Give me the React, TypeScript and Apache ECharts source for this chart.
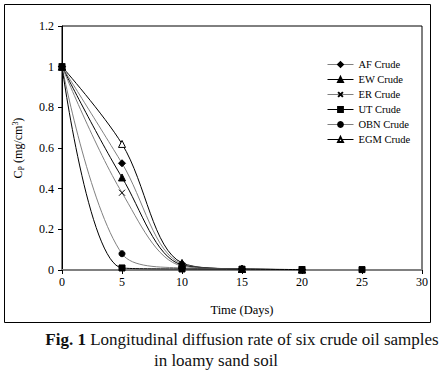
import React, { useEffect, useRef } from "react";
import * as echarts from "echarts";

const days = [0, 5, 10, 15, 20];
const afCrude = [1, 0.525, 0.03, 0.005, 0.002];
const ewCrude = [1, 0.455, 0.025, 0.005, 0.002];
const erCrude = [1, 0.38, 0.02, 0.004, 0.002];
const utCrude = [1, 0.01, 0.005, 0.004, 0.002];
const utLast = [25, 0.002];
const obnCrude = [1, 0.08, 0.01, 0.005, 0.002];
const egmCrude = [1, 0.62, 0.035, 0.005, 0.002];

const yTicks = [0, 0.2, 0.4, 0.6, 0.8, 1, 1.2];
const xTicks = [0, 5, 10, 15, 20, 25, 30];

const SERIF = "'Liberation Serif', 'Times New Roman', serif";
const GRAY = "#808080";
const BLACK = "#000000";

const xPath = "path://M0,0L10,10M10,0L0,10";

function pairs(vals: number[]) {
  return days.map((d, i) => [d, vals[i]]);
}

export default function App() {
  const ref = useRef<HTMLDivElement>(null);
  useEffect(() => {
    document.body.style.margin = "0";
    const chart = echarts.init(ref.current!, null, { renderer: "svg" });
    const mk = (
      name: string,
      data: any[],
      color: string,
      symbol: string,
      size: number,
      fill: string,
      extra: any = {}
    ) => ({
      name,
      type: "line",
      data,
      smooth: 0.35,
      symbol,
      symbolSize: size,
      showSymbol: true,
      connectNulls: false,
      lineStyle: { color, width: 1 },
      itemStyle: { color: fill, borderColor: BLACK, borderWidth: 1, ...extra },
      emphasis: { disabled: true },
      z: 3,
    });
    const utData: any[] = pairs(utCrude);
    utData.push([22, null]);
    utData.push(utLast);
    chart.setOption({
      animation: false,
      backgroundColor: "#fff",
      grid: {
        left: 62,
        right: 21,
        top: 26,
        bottom: 104,
        show: true,
        borderColor: BLACK,
        borderWidth: 1,
        backgroundColor: "transparent",
      },
      legend: {
        orient: "vertical",
        left: 322,
        top: 54,
        itemWidth: 26,
        itemHeight: 6,
        itemGap: 4,
        lineStyle: { width: 1 },
        textStyle: { fontFamily: SERIF, fontSize: 10.5, color: BLACK },
        selectedMode: false,
        data: ["AF Crude", "EW Crude", "ER Crude", "UT Crude", "OBN Crude", "EGM Crude"],
      },
      xAxis: {
        type: "value",
        min: 0,
        max: 30,
        interval: 5,
        name: "Time (Days)",
        nameLocation: "middle",
        nameGap: 33,
        nameTextStyle: { fontFamily: SERIF, fontSize: 12.5, color: BLACK },
        axisLine: { onZero: false, lineStyle: { color: GRAY, width: 2 } },
        axisTick: { show: true, length: 4, inside: false, lineStyle: { color: BLACK } },
        axisLabel: {
          fontFamily: SERIF,
          fontSize: 12,
          color: BLACK,
          margin: 6,
          formatter: (v: number) => (xTicks.includes(v) ? String(v) : ""),
        },
        splitLine: { show: false },
      },
      yAxis: {
        type: "value",
        min: 0,
        max: 1.2,
        interval: 0.2,
        name: "C{sub|P} (mg/cm{sup|3})",
        nameLocation: "middle",
        nameGap: 37,
        nameRotate: 90,
        nameTextStyle: {
          fontFamily: SERIF,
          fontSize: 12,
          color: BLACK,
          rich: {
            sub: { fontFamily: SERIF, fontSize: 8, verticalAlign: "bottom", padding: [6, 0, 0, 0] },
            sup: { fontFamily: SERIF, fontSize: 8, verticalAlign: "top", padding: [0, 0, 6, 0] },
          },
        },
        axisLine: { show: true, lineStyle: { color: BLACK, width: 1 } },
        axisTick: { show: true, length: 4, lineStyle: { color: BLACK } },
        axisLabel: {
          fontFamily: SERIF,
          fontSize: 12,
          color: BLACK,
          margin: 8,
          formatter: (v: number) => {
            const t = yTicks.find((x) => Math.abs(x - v) < 1e-9);
            return t === undefined ? "" : String(Math.round(t * 10) / 10);
          },
        },
        splitLine: { show: false },
      },
      series: [
        mk("EGM Crude", pairs(egmCrude), BLACK, "triangle", 7, "#fff"),
        mk("AF Crude", pairs(afCrude), GRAY, "diamond", 7, BLACK),
        mk("EW Crude", pairs(ewCrude), BLACK, "triangle", 7, BLACK),
        mk("ER Crude", pairs(erCrude), GRAY, xPath, 6, "none", { borderColor: BLACK }),
        mk("OBN Crude", pairs(obnCrude), GRAY, "circle", 6, BLACK),
        mk("UT Crude", utData, BLACK, "rect", 6, BLACK),
      ],
      graphic: [
        {
          type: "rect",
          shape: { x: 4.5, y: 4.5, width: 426, height: 318 },
          style: { fill: "none", stroke: BLACK, lineWidth: 1 },
          silent: true,
        },
        {
          type: "text",
          x: 242,
          y: 339,
          style: {
            text: "{b|Fig. 1} Longitudinal diffusion rate of six crude oil samples",
            align: "center",
            verticalAlign: "middle",
            fontFamily: SERIF,
            fontSize: 17,
            fill: "#111",
            rich: { b: { fontFamily: SERIF, fontSize: 17, fontWeight: "bold", fill: "#111" } },
          },
        },
        {
          type: "text",
          x: 216,
          y: 360,
          style: {
            text: "in loamy sand soil",
            align: "center",
            verticalAlign: "middle",
            fontFamily: SERIF,
            fontSize: 17,
            fill: "#111",
          },
        },
      ],
    });
    return () => chart.dispose();
  }, []);
  return <div ref={ref} style={{ width: 443, height: 374 }} />;
}
